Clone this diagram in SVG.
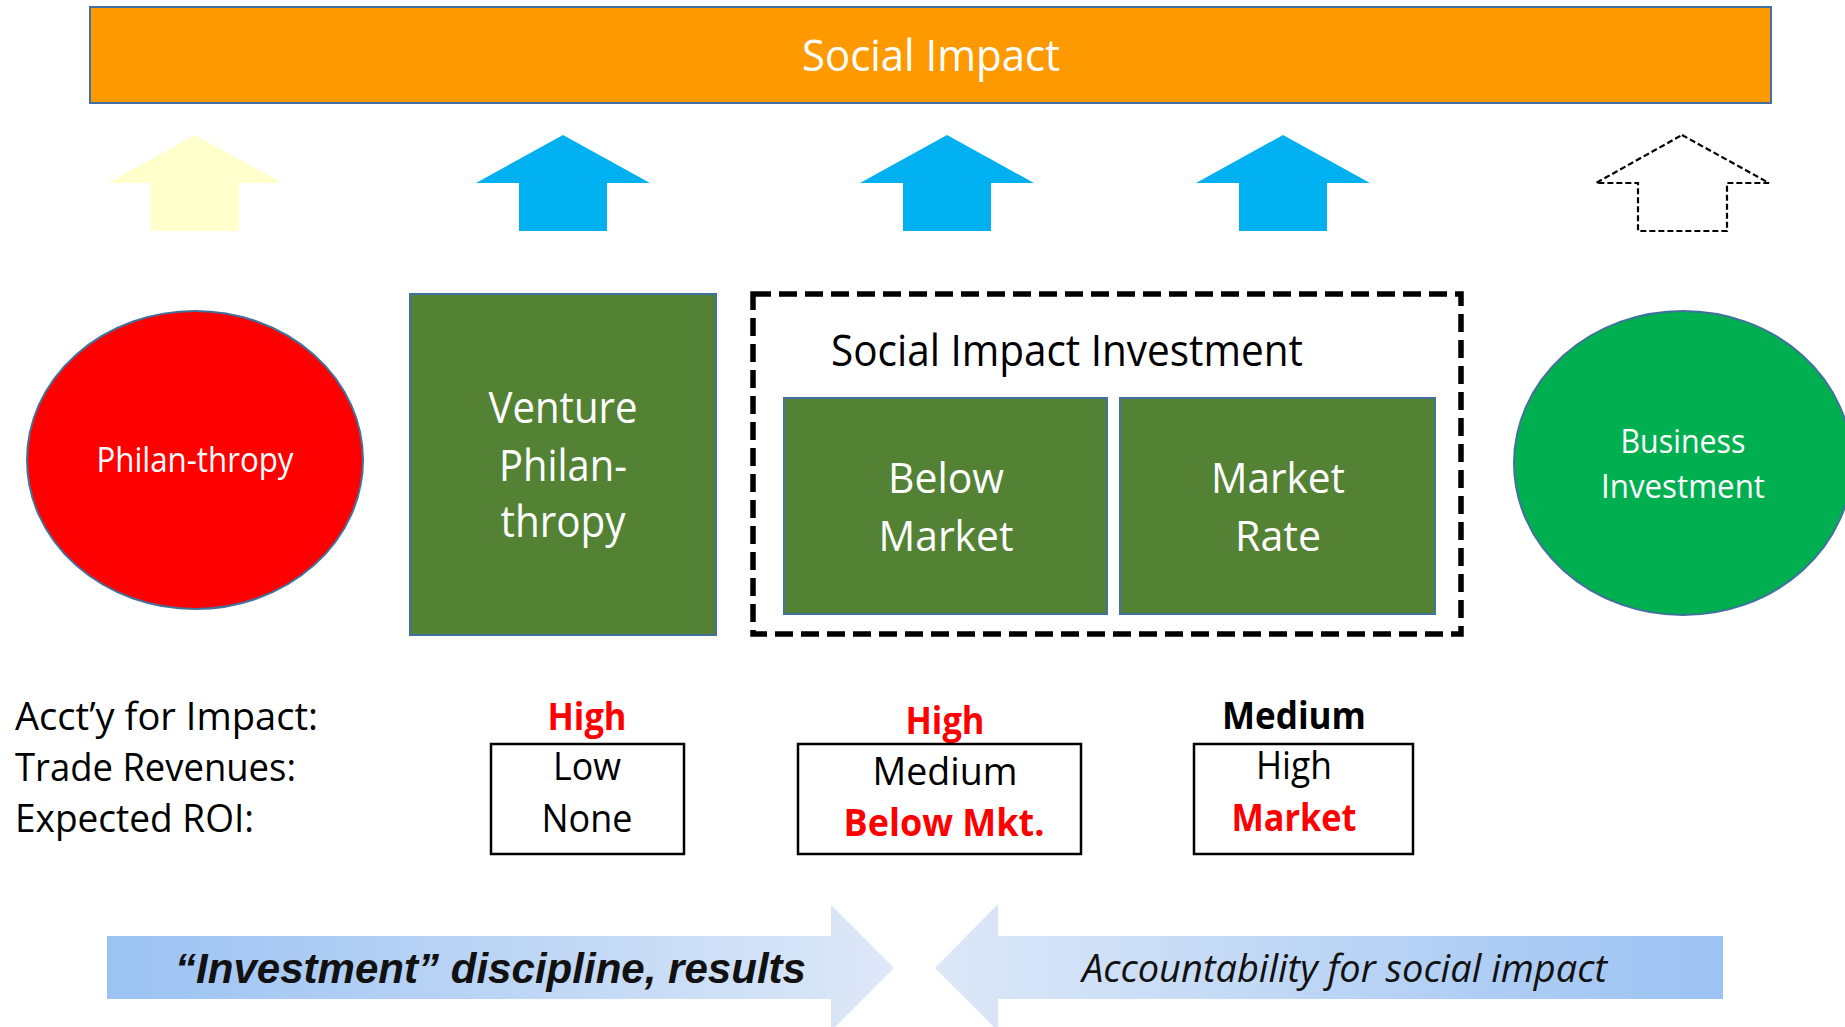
<svg xmlns="http://www.w3.org/2000/svg" width="1845" height="1027" viewBox="0 0 1845 1027">
<defs>
<style>
.t{font-family:"Open Sans","Noto Sans","Liberation Sans",sans-serif;}
.w{fill:#FFFFFF;}
.k{fill:#000000;}
.r{fill:#FF0000;}
.b{font-weight:700;}
.shape{stroke:#41719C;stroke-width:2;}
.up{fill:#00B0F0;}
.box{fill:none;stroke:#000;stroke-width:2.5;}
</style>
<linearGradient id="gL" gradientUnits="userSpaceOnUse" x1="107" y1="0" x2="894" y2="0">
<stop offset="0" stop-color="#9BC2F2"/>
<stop offset="1" stop-color="#DDE8F8"/>
</linearGradient>
<linearGradient id="gR" gradientUnits="userSpaceOnUse" x1="935" y1="0" x2="1723" y2="0">
<stop offset="0" stop-color="#DDE8F8"/>
<stop offset="1" stop-color="#9BC2F2"/>
</linearGradient>
</defs>
<rect width="1845" height="1027" fill="#FFFFFF"/>

<g id="social-impact">
<rect x="90" y="7" width="1681" height="96" fill="#FF9900" class="shape"/>
<text class="t w" x="931" y="71" font-size="43" text-anchor="middle" textLength="258" lengthAdjust="spacingAndGlyphs">Social Impact</text>
</g>

<g id="connectors">
<path d="M195,135 L282,183 L239,183 L239,231 L151,231 L151,183 L108,183 Z" fill="#FFFFCC"/>
<path class="up" d="M563,135 L650,183 L607,183 L607,231 L519,231 L519,183 L476,183 Z"/>
<path class="up" d="M947,135 L1034,183 L991,183 L991,231 L903,231 L903,183 L860,183 Z"/>
<path class="up" d="M1283,135 L1370,183 L1327,183 L1327,231 L1239,231 L1239,183 L1196,183 Z"/>
<path d="M1682,135 L1769,183 L1727,183 L1727,231 L1638,231 L1638,183 L1596,183 Z" fill="none" stroke="#000" stroke-width="2.2" stroke-dasharray="6 3"/>
</g>

<g id="philanthropy">
<ellipse cx="195" cy="460" rx="168" ry="149" fill="#FF0000" class="shape"/>
<text class="t w" x="195" y="472" font-size="34" text-anchor="middle" textLength="197" lengthAdjust="spacingAndGlyphs">Philan-thropy</text>
</g>

<g id="venture-philanthropy">
<rect x="410" y="294" width="306" height="341" fill="#548235" class="shape"/>
<text class="t w" x="563" y="423" font-size="44" text-anchor="middle" textLength="149" lengthAdjust="spacingAndGlyphs">Venture</text>
<text class="t w" x="563" y="481" font-size="44" text-anchor="middle" textLength="128" lengthAdjust="spacingAndGlyphs">Philan-</text>
<text class="t w" x="563" y="537" font-size="44" text-anchor="middle" textLength="125" lengthAdjust="spacingAndGlyphs">thropy</text>
</g>

<g id="social-impact-investment">
<rect x="753" y="294" width="708" height="340" fill="none" stroke="#000" stroke-width="5.5" stroke-dasharray="18 8"/>
<text class="t k" x="831" y="366" font-size="43" textLength="472" lengthAdjust="spacingAndGlyphs">Social Impact Investment</text>
</g>

<g id="below-market">
<rect x="784" y="398" width="323" height="216" fill="#548235" class="shape"/>
<text class="t w" x="946" y="493" font-size="42" text-anchor="middle" textLength="116" lengthAdjust="spacingAndGlyphs">Below</text>
<text class="t w" x="946" y="551" font-size="42" text-anchor="middle" textLength="135" lengthAdjust="spacingAndGlyphs">Market</text>
</g>

<g id="market-rate">
<rect x="1120" y="398" width="315" height="216" fill="#548235" class="shape"/>
<text class="t w" x="1278" y="493" font-size="42" text-anchor="middle" textLength="134" lengthAdjust="spacingAndGlyphs">Market</text>
<text class="t w" x="1278" y="551" font-size="42" text-anchor="middle" textLength="86" lengthAdjust="spacingAndGlyphs">Rate</text>
</g>

<g id="business-investment">
<ellipse cx="1683" cy="463" rx="169" ry="152" fill="#00B050" class="shape"/>
<text class="t w" x="1683" y="453" font-size="33" text-anchor="middle" textLength="125" lengthAdjust="spacingAndGlyphs">Business</text>
<text class="t w" x="1683" y="498" font-size="33" text-anchor="middle" textLength="164" lengthAdjust="spacingAndGlyphs">Investment</text>
</g>

<g id="row-labels">
<text class="t k" x="15" y="730" font-size="38" textLength="303" lengthAdjust="spacingAndGlyphs">Acct’y for Impact:</text>
<text class="t k" x="15" y="781" font-size="38" textLength="281" lengthAdjust="spacingAndGlyphs">Trade Revenues:</text>
<text class="t k" x="15" y="832" font-size="38" textLength="239" lengthAdjust="spacingAndGlyphs">Expected ROI:</text>
</g>

<g id="venture-values">
<text class="t r b" x="587" y="730" font-size="38" text-anchor="middle" textLength="79" lengthAdjust="spacingAndGlyphs">High</text>
<rect class="box" x="491" y="744" width="193" height="110"/>
<text class="t k" x="587" y="780" font-size="38" text-anchor="middle" textLength="68" lengthAdjust="spacingAndGlyphs">Low</text>
<text class="t k" x="587" y="832" font-size="38" text-anchor="middle" textLength="91" lengthAdjust="spacingAndGlyphs">None</text>
</g>

<g id="below-market-values">
<text class="t r b" x="945" y="734" font-size="38" text-anchor="middle" textLength="79" lengthAdjust="spacingAndGlyphs">High</text>
<rect class="box" x="798" y="744" width="283" height="110"/>
<text class="t k" x="945" y="785" font-size="38" text-anchor="middle" textLength="145" lengthAdjust="spacingAndGlyphs">Medium</text>
<text class="t r b" x="944" y="836" font-size="38" text-anchor="middle" textLength="201" lengthAdjust="spacingAndGlyphs">Below Mkt.</text>
</g>

<g id="market-rate-values">
<text class="t k b" x="1294" y="729" font-size="38" text-anchor="middle" textLength="144" lengthAdjust="spacingAndGlyphs">Medium</text>
<rect class="box" x="1194" y="744" width="219" height="110"/>
<text class="t k" x="1294" y="779" font-size="38" text-anchor="middle" textLength="76" lengthAdjust="spacingAndGlyphs">High</text>
<text class="t r b" x="1294" y="831" font-size="38" text-anchor="middle" textLength="125" lengthAdjust="spacingAndGlyphs">Market</text>
</g>

<g id="investment-discipline">
<path d="M107,936 L831,936 L831,905 L894,968 L831,1031 L831,999 L107,999 Z" fill="url(#gL)"/>
<text x="175" y="983" font-family="'Liberation Sans',Arial,sans-serif" font-weight="700" font-style="italic" font-size="43" fill="#111" textLength="631" lengthAdjust="spacingAndGlyphs">“Investment” discipline, results</text>
</g>

<g id="accountability">
<path d="M935,968 L998,904 L998,936 L1723,936 L1723,999 L998,999 L998,1031 Z" fill="url(#gR)"/>
<text class="t" x="1082" y="982" font-size="38" font-style="italic" fill="#111" textLength="525" lengthAdjust="spacingAndGlyphs">Accountability for social impact</text>
</g>
</svg>
